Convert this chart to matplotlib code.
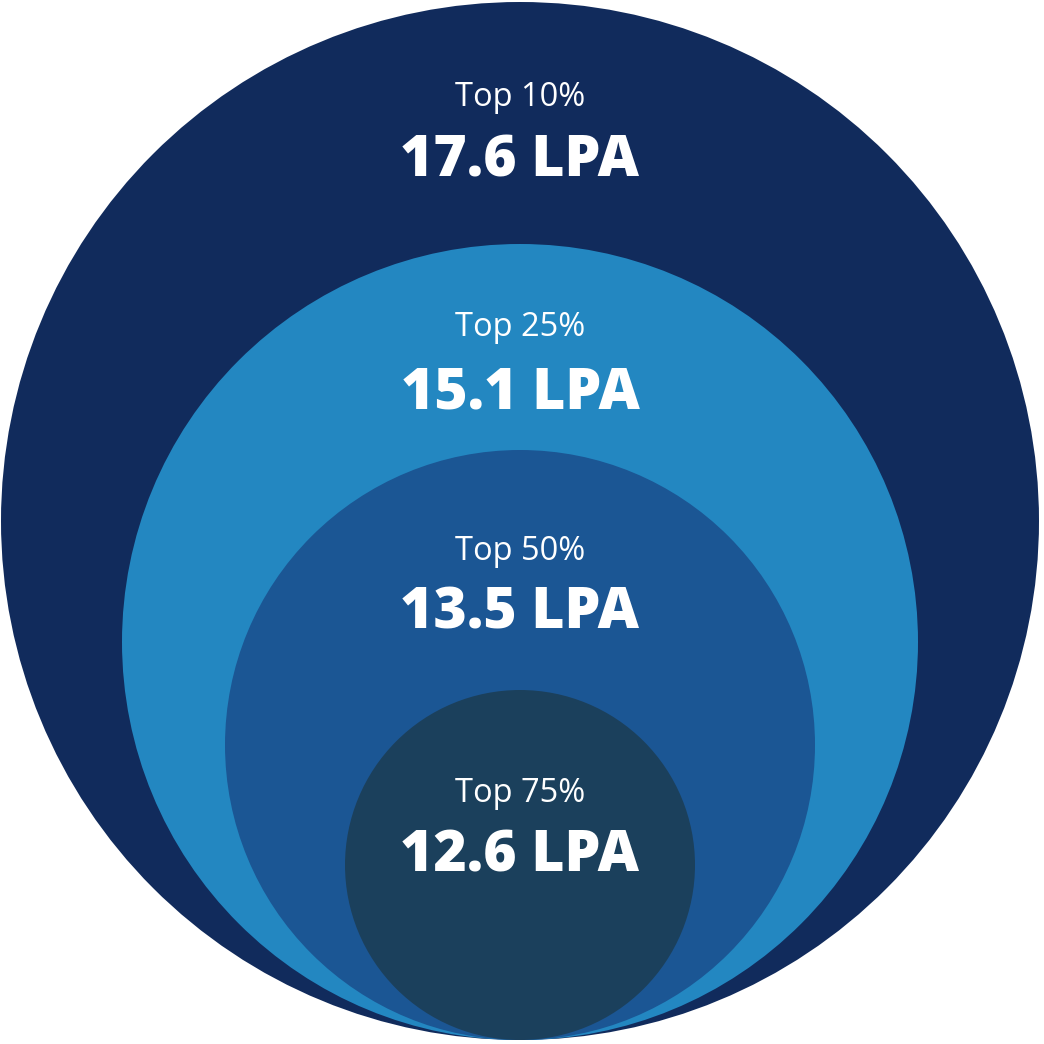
import matplotlib
matplotlib.use("Agg")
import matplotlib.pyplot as plt
from matplotlib.patches import Circle

labels = ["Top 10%", "Top 25%", "Top 50%", "Top 75%"]
values = [17.6, 15.1, 13.5, 12.6]
colors = ["#112b5c", "#2387c1", "#1b5694", "#1b405c"]
radii = [519, 398, 295, 175]
label_y = [95, 325, 548, 791]
value_y = [158, 390, 610, 853]

fig = plt.figure(figsize=(10.44, 10.44), dpi=100)
ax = fig.add_axes([0, 0, 1, 1])
ax.set_xlim(0, 1044)
ax.set_ylim(1044, 0)
ax.set_aspect("equal")
ax.axis("off")

cx = 520
bottom = 1040
for r, c in zip(radii, colors):
    ax.add_patch(Circle((cx, bottom - r), r, facecolor=c, edgecolor="none"))

for lab, v, ly, vy in zip(labels, values, label_y, value_y):
    ax.text(cx, ly + 3, lab, color="white", fontsize=23.5, fontweight="normal",
            ha="center", va="center", family=["Open Sans", "DejaVu Sans"])
    ax.text(cx, vy + 4, f"{v} LPA", color="white", fontsize=41, fontweight="heavy",
            ha="center", va="center", family=["Open Sans", "DejaVu Sans"])

fig.savefig("out.png", dpi=100, facecolor="white")
